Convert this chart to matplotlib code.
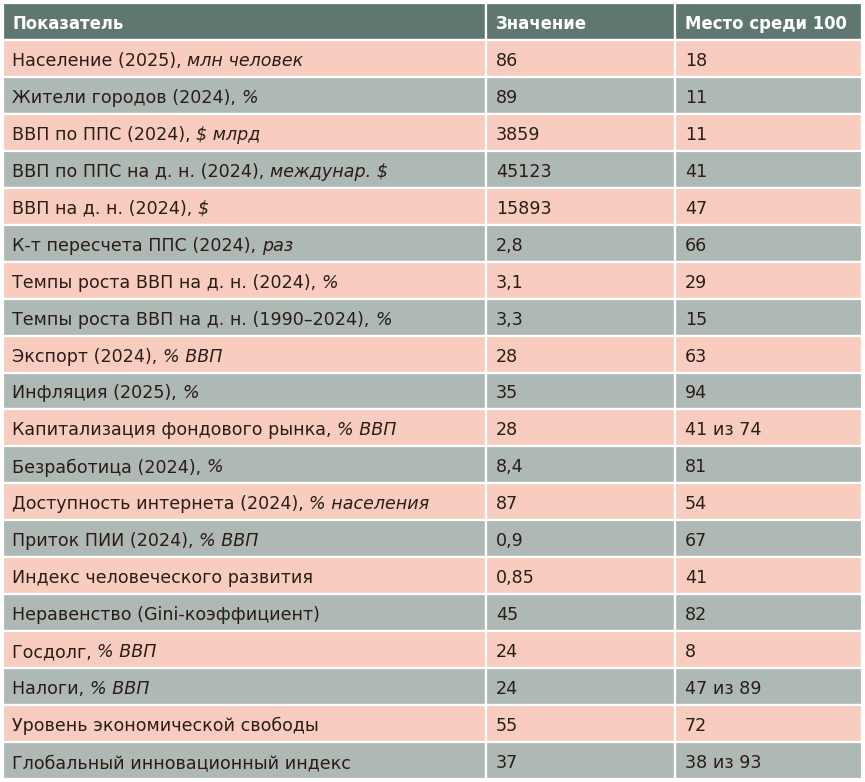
import matplotlib
matplotlib.use("Agg")
import matplotlib.pyplot as plt
from matplotlib.patches import Rectangle

headers = ["Показатель", "Значение", "Место среди 100"]
label_main = [
    "Население (2025), ", "Жители городов (2024), ", "ВВП по ППС (2024), ",
    "ВВП по ППС на д. н. (2024), ", "ВВП на д. н. (2024), ",
    "К-т пересчета ППС (2024), ", "Темпы роста ВВП на д. н. (2024), ",
    "Темпы роста ВВП на д. н. (1990–2024), ", "Экспорт (2024), ",
    "Инфляция (2025), ", "Капитализация фондового рынка, ",
    "Безработица (2024), ", "Доступность интернета (2024), ",
    "Приток ПИИ (2024), ", "Индекс человеческого развития",
    "Неравенство (Gini-коэффициент)", "Госдолг, ", "Налоги, ",
    "Уровень экономической свободы", "Глобальный инновационный индекс",
]
label_unit = [
    "млн человек", "%", "$ млрд", "междунар. $", "$", "раз", "%", "%",
    "% ВВП", "%", "% ВВП", "%", "% населения", "% ВВП", "", "", "% ВВП",
    "% ВВП", "", "",
]
values = ["86", "89", "3859", "45123", "15893", "2,8", "3,1", "3,3", "28",
          "35", "28", "8,4", "87", "0,9", "0,85", "45", "24", "24", "55", "37"]
ranks = ["18", "11", "11", "41", "47", "66", "29", "15", "63", "94",
         "41 из 74", "81", "54", "67", "41", "82", "8", "47 из 89", "72",
         "38 из 93"]

W, H = 865, 782
fig = plt.figure(figsize=(W / 100, H / 100), dpi=100)
ax = fig.add_axes([0, 0, 1, 1])
ax.set_xlim(0, W)
ax.set_ylim(H, 0)
ax.axis("off")

FONT = "DejaVu Sans"
x_edges = [3, 486, 675, 862]
top, bottom = 3, 779
n_rows = len(values) + 1
rh = (bottom - top) / n_rows
header_c = "#5f7770"
pink = "#f8cdc0"
gray = "#aeb8b4"
txt_c = "#2b1d16"
fs = 12.6

fig.canvas.draw()
renderer = fig.canvas.get_renderer()

for r in range(n_rows):
    y0 = top + r * rh
    color = header_c if r == 0 else (pink if r % 2 == 1 else gray)
    for c in range(3):
        ax.add_patch(Rectangle((x_edges[c], y0), x_edges[c + 1] - x_edges[c], rh,
                               facecolor=color, edgecolor="white", lw=1.6))
    yc = y0 + rh / 2 + 2.5
    if r == 0:
        for c, h in enumerate(headers):
            ax.text(x_edges[c] + 10, yc, h, fontsize=11.9, fontweight="bold",
                    color="white", va="center", ha="left", family=FONT)
        continue
    i = r - 1
    t = ax.text(x_edges[0] + 9, yc, label_main[i], fontsize=fs, color=txt_c,
                va="center", ha="left", family=FONT)
    if label_unit[i]:
        bb = t.get_window_extent(renderer=renderer)
        x_end = bb.x1  # pixels, axes spans whole figure
        ax.text(x_end, yc, label_unit[i], fontsize=fs, color=txt_c,
                style="italic", va="center", ha="left", family=FONT)
    ax.text(x_edges[1] + 10, yc, values[i], fontsize=fs, color=txt_c,
            va="center", ha="left", family=FONT)
    ax.text(x_edges[2] + 10, yc, ranks[i], fontsize=fs, color=txt_c,
            va="center", ha="left", family=FONT)

fig.savefig("out.png", dpi=100, facecolor="white")
